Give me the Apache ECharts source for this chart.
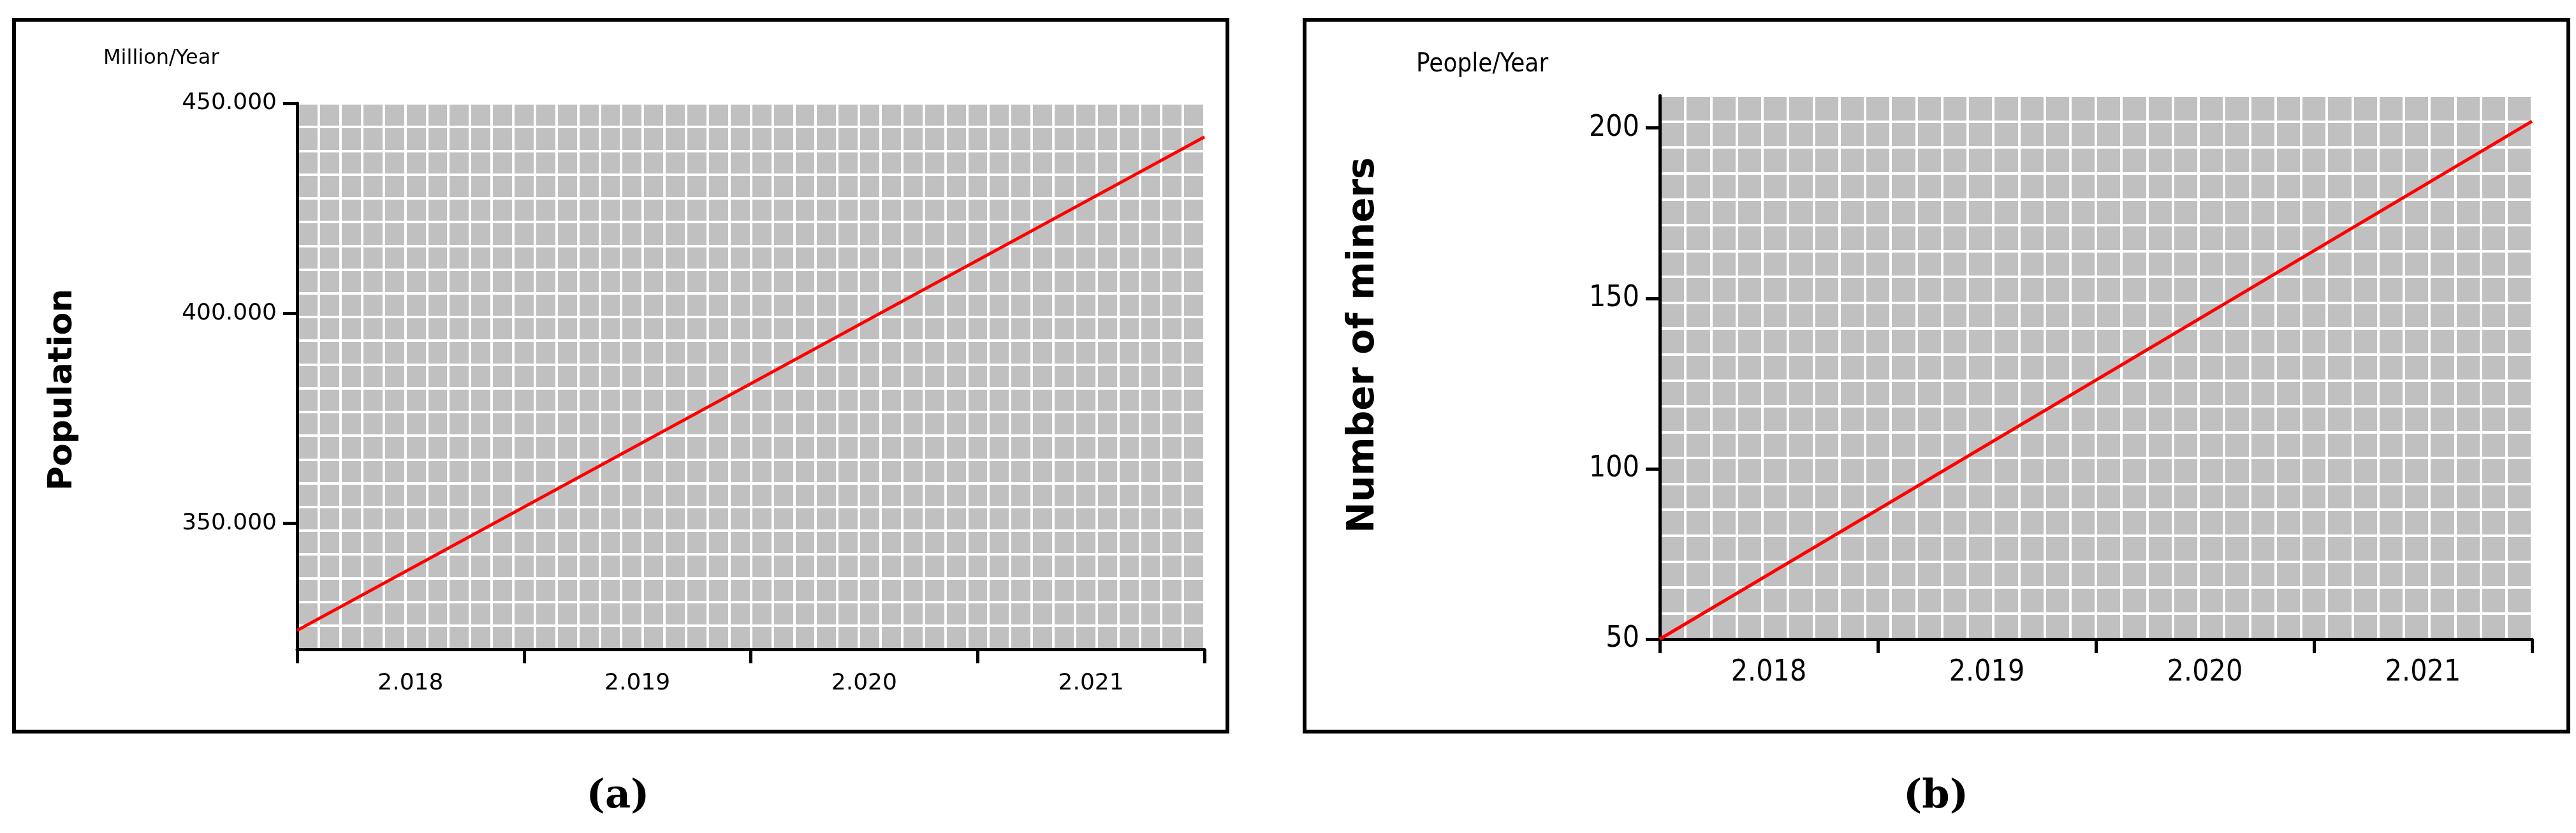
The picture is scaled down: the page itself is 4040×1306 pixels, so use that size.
<!DOCTYPE html><html><head><meta charset="utf-8"><script src="https://cdn.jsdelivr.net/npm/echarts@6/dist/echarts.min.js"></script>
<style>html,body{margin:0;background:#fff}#c{width:4040px;height:1306px}</style></head><body><div id="c"></div><script>
const years=['2.018','2.019','2.020','2.021'];
const popLine=[[2017.5,324.5],[2021.5,442]];
const minerLine=[[2017.5,50],[2021.5,202]];
const popTicks=[350,400,450];
const minerTicks=[50,100,150,200];
const chart=echarts.init(document.getElementById('c'));
const gridA={left:466,top:162,width:1423,height:856};
const gridB={left:2603,top:150,width:1368,height:852};
function axesFor(gi,font,fs,ymin,ymax,ticks,ycols,yrows,labelMargin,fmt){
 const xs=[
  {type:'value',gridIndex:gi,position:'bottom',min:2017.5,max:2021.5,interval:1,axisLine:{lineStyle:{color:'#000',width:5}},axisTick:{length:22,lineStyle:{color:'#000',width:5}},axisLabel:{show:false},splitLine:{show:false}},
  {type:'category',gridIndex:gi,position:'bottom',data:years,boundaryGap:true,axisLine:{show:false},axisTick:{show:false},axisLabel:{fontFamily:font,fontSize:fs,color:'#000',margin:labelMargin},splitLine:{show:false}},
  {type:'value',gridIndex:gi,position:'bottom',min:0,max:ycols,interval:1,axisLine:{show:false},axisTick:{show:false},axisLabel:{show:false},splitLine:{show:true,lineStyle:{color:'#fff',width:4}}}
 ];
 const ys=[
  {type:'value',gridIndex:gi,position:'left',min:ymin,max:ymax,axisLine:{show:true,lineStyle:{color:'#000',width:5}},axisTick:{show:true,length:22,customValues:ticks,lineStyle:{color:'#000',width:5}},axisLabel:{fontFamily:font,fontSize:fs,color:'#000',margin:32,customValues:ticks,formatter:fmt},splitLine:{show:false}},
  {type:'value',gridIndex:gi,position:'left',min:0,max:yrows,interval:1,axisLine:{show:false},axisTick:{show:false},axisLabel:{show:false},splitLine:{show:true,lineStyle:{color:'#fff',width:4}}}
 ];
 return {xs,ys};
}
const A=axesFor(0,'DejaVu Sans',36,320,450,popTicks,42,23,36,v=>Number(v).toFixed(3));
const B=axesFor(1,'DejaVu Sans Condensed',46,50,209.5,minerTicks,34,21,30,v=>String(v));
chart.setOption({
 animation:false,
 grid:[Object.assign({show:true,backgroundColor:'#c0c0c0',borderWidth:0},gridA),Object.assign({show:true,backgroundColor:'#c0c0c0',borderWidth:0},gridB)],
 xAxis:[...A.xs,...B.xs],
 yAxis:[...A.ys,...B.ys],
 series:[
  {type:'line',xAxisIndex:0,yAxisIndex:0,data:popLine,showSymbol:false,lineStyle:{color:'#f00',width:5},z:5},
  {type:'line',xAxisIndex:3,yAxisIndex:2,data:minerLine,showSymbol:false,lineStyle:{color:'#f00',width:5},z:5}
 ],
 graphic:[
  {type:'rect',shape:{x:22,y:31,width:1903,height:1116},style:{fill:'none',stroke:'#000',lineWidth:6}},
  {type:'rect',shape:{x:2046,y:31,width:1982,height:1116},style:{fill:'none',stroke:'#000',lineWidth:6}},
  {type:'text',left:162,top:76,style:{text:'Million/Year',font:'32px "DejaVu Sans"',fill:'#000'}},
  {type:'text',x:98,y:611,rotation:Math.PI/2,style:{text:'Population',font:'bold 52px "DejaVu Sans"',fill:'#000',align:'center',verticalAlign:'middle'}},
  {type:'text',left:2221,top:82,style:{text:'People/Year',font:'40px "DejaVu Sans Condensed"',fill:'#000'}},
  {type:'text',x:2139,y:541,rotation:Math.PI/2,style:{text:'Number of miners',font:'bold 58px "DejaVu Sans"',fill:'#000',align:'center',verticalAlign:'middle'}},
  {type:'text',x:969,y:1250,style:{text:'(a)',font:'bold 62px "DejaVu Serif"',fill:'#000',align:'center',verticalAlign:'middle'}},
  {type:'text',x:3036,y:1250,style:{text:'(b)',font:'bold 62px "DejaVu Serif"',fill:'#000',align:'center',verticalAlign:'middle'}}
 ]
});
</script></body></html>
